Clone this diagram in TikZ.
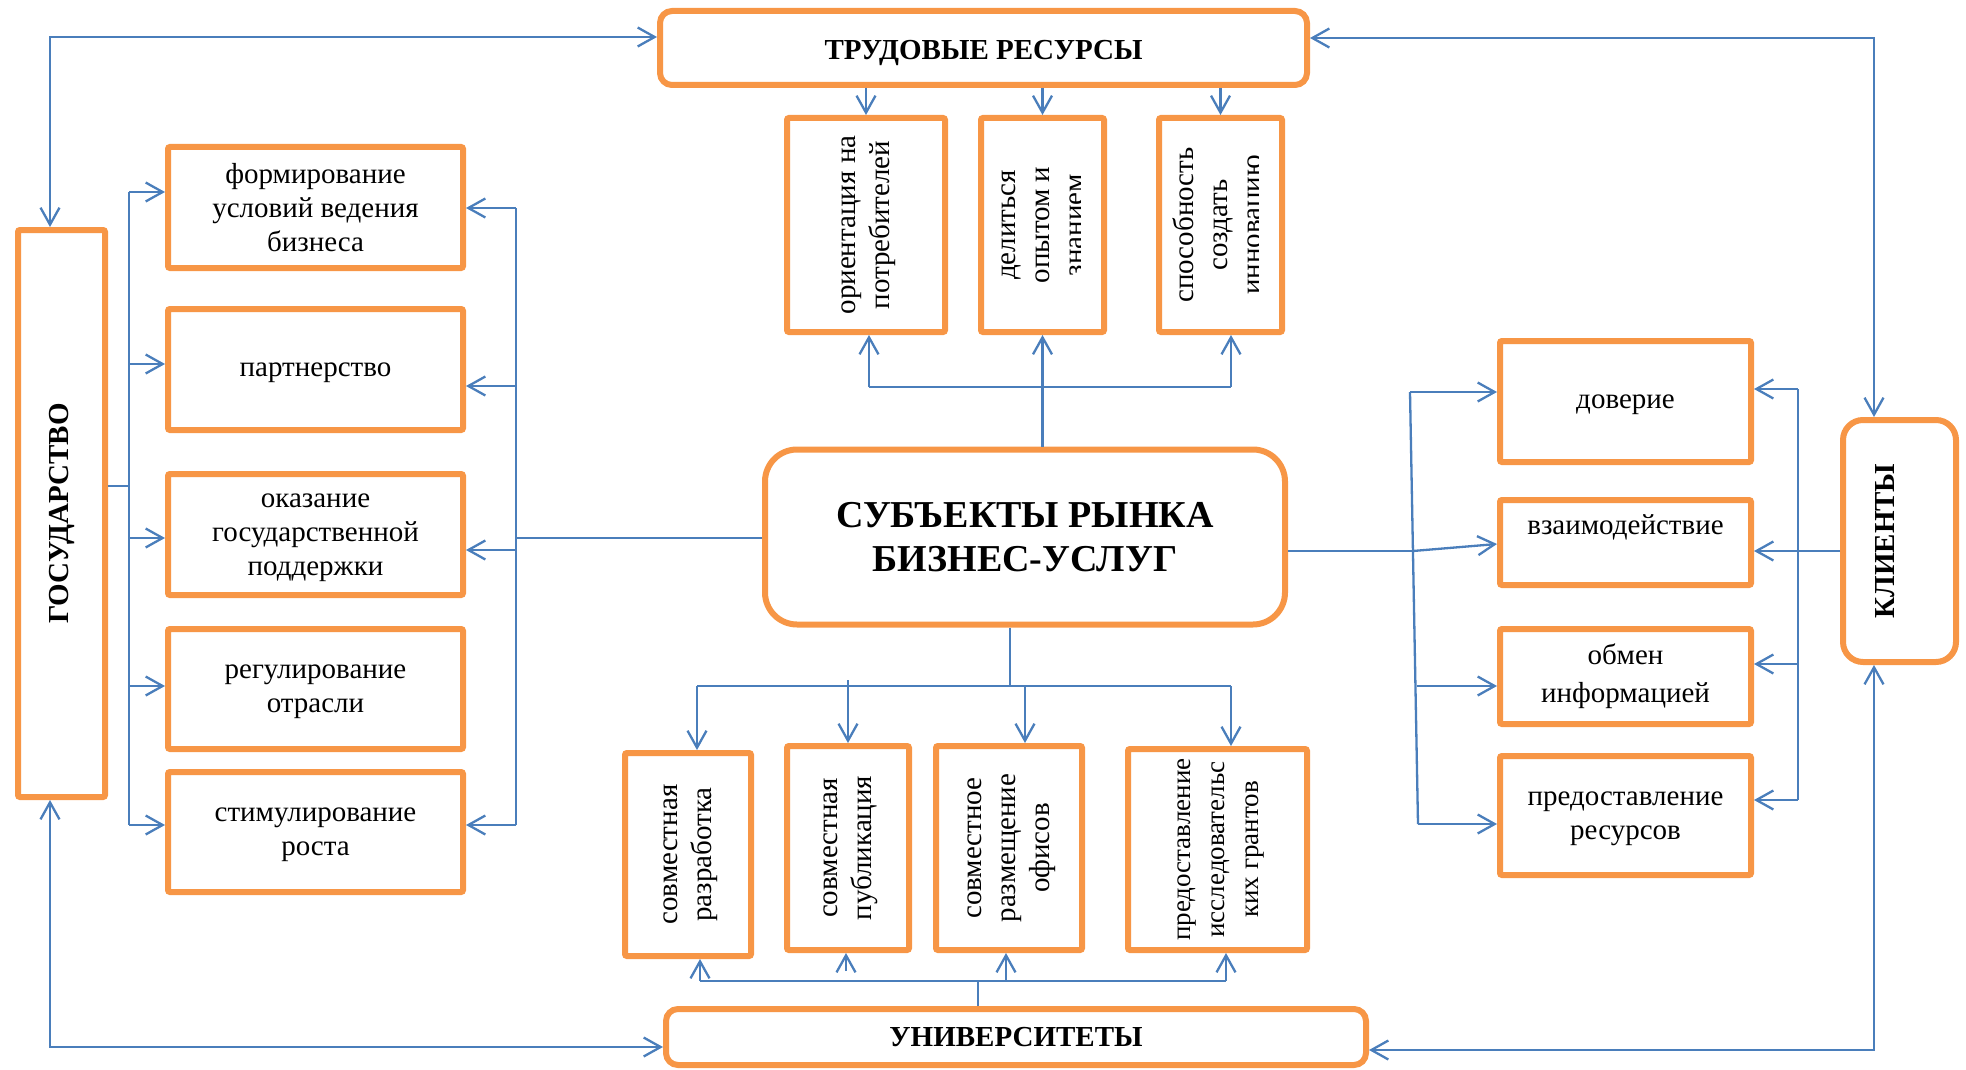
\documentclass[tikz,border=0pt]{standalone}
\usepackage{fontspec}
\setmainfont{Liberation Serif}
\usepackage{graphicx}
\usetikzlibrary{arrows.meta}

\definecolor{boxorange}{HTML}{F79646}
\definecolor{linkblue}{HTML}{4A7EBB}

% text set in lines, turned to read upwards
\newcommand{\vlines}[1]{\rotatebox{90}{\begin{tabular}{@{}c@{}}#1\end{tabular}}}

\tikzset{
  obox/.style={draw=boxorange, line width=3pt, fill=white, inner sep=0pt,
               rounded corners=1pt, align=center,
               font=\fontsize{14.5}{17}\selectfont},
  sz/.style 2 args={minimum width=#1pt, minimum height=#2pt},
  flat/.style={text depth=0pt},
  txt/.style={inner sep=0pt, align=center, font=\fontsize{14.5}{17}\selectfont},
  head/.style={font=\bfseries\fontsize{14.5}{17}\selectfont},
  conn/.style={draw=linkblue, line width=1.15pt},
  arr/.style={conn, -{Straight Barb[length=8.5pt,width=9.5pt]}},
  biarr/.style={conn, {Straight Barb[length=8.5pt,width=9.5pt]}-{Straight Barb[length=8.5pt,width=9.5pt]}},
}

\begin{document}
\begin{tikzpicture}[x=0.5pt, y=-0.5pt]
\useasboundingbox (0,0) rectangle (1966,1070);

% ---------- main blocks ----------
\node[obox, rounded corners=6pt, sz={323.5}{37}] (T) at (983.5,48) {};
\node[txt, head, flat] (Tt) at (983.5,50) {ТРУДОВЫЕ РЕСУРСЫ};
\node[obox, sz={43.5}{283.5}, head] (G) at (61.5,513.5) {\rotatebox{90}{ГОСУДАРСТВО}};
\node[obox, rounded corners=6pt, sz={350}{28}, head] (U) at (1016,1037) {УНИВЕРСИТЕТЫ};
\node[obox, rounded corners=10pt, sz={56.5}{121}] (K) at (1899.5,541) {};
\node[txt, head, rotate=90] (Kt) at (1885,541) {КЛИЕНТЫ};
\node[obox, rounded corners=16pt, sz={260}{87.5},
      font=\bfseries\fontsize{19}{22}\selectfont] (C) at (1025,537)
      {СУБЪЕКТЫ РЫНКА\\БИЗНЕС-УСЛУГ};

% ---------- state functions ----------
\node[obox, flat, sz={147.5}{60.5}] (L1) at (315.5,207.5) {формирование\\условий ведения\\бизнеса};
\node[obox, flat, sz={147.5}{60.5}] (L2) at (315.5,369.5) {партнерство};
\node[obox, flat, sz={147.5}{60.5}] (L3) at (315.5,534.5) {оказание\\государственной\\поддержки};
\node[obox, flat, sz={147.5}{60}]   (L4) at (315.5,689)   {регулирование\\отрасли};
\node[obox, flat, sz={147.5}{60}]   (L5) at (315.5,832)   {стимулирование\\роста};

% ---------- labour resources ----------
\node[obox, sz={79}{107}] (A1) at (866,225) {\vlines{ориентация на\\потребителей}};
\node[obox, sz={61.5}{107}] (A2) at (1042.5,225) {};
\begin{scope}
  \clip (984,121) rectangle (1080.5,329);
  \node[txt] (A2t) at (A2.center) {\vlines{делиться\\опытом и\\знанием}};
\end{scope}
\node[obox, sz={61.5}{107}] (A3) at (1220.5,225) {};
\begin{scope}
  \clip (1162,121) rectangle (1258.5,329);
  \node[txt] (A3t) at (A3.center) {\vlines{способность\\создать\\инновацию}};
\end{scope}

% ---------- universities ----------
\node[obox, sz={63}{101.5}]   (B1) at (688,854.5)    {\vlines{совместная\\разработка}};
\node[obox, sz={61}{102}]     (B2) at (848,848)      {\vlines{совместная\\публикация}};
\node[obox, sz={73}{102}]     (B3) at (1009,848)     {\vlines{совместное\\размещение\\офисов}};
\node[obox, sz={89.5}{100.5}, font=\fontsize{13.5}{17}\selectfont] (B4) at (1217.5,849.5)
      {\vlines{предоставление\\исследовательс\\ких грантов}};

% ---------- clients ----------
\node[obox, flat, sz={125.5}{60.5}] (R1) at (1625.5,401.5) {доверие};
\node[obox, sz={125.5}{42.5}] (R2) at (1625.5,542.5) {};
\node[txt] (R2t) at (1625.5,527) {взаимодействие};
\node[obox, sz={125.5}{47.5}, font=\fontsize{14.5}{19}\selectfont] (R3) at (1625.5,676.5) {обмен\\информацией};
\node[obox, flat, sz={125.5}{59.5}] (R4) at (1625.5,815.5) {предоставление\\ресурсов};

% ---------- outer loop ----------
\coordinate (cTL) at (50,37);
\coordinate (cTR) at (1874,38);
\coordinate (cBL) at (50,1047);
\coordinate (cBR) at (1874,1050);
\draw[biarr] (G.north -| cTL) -- (cTL) -- (T.west |- cTL);
\draw[biarr] (T.east |- cTR) -- (cTR) -- (K.north -| cTR);
\draw[biarr] (G.south -| cBL) -- (cBL) -- (U.west |- cBL);
\draw[biarr] (K.south -| cBR) -- (cBR) -- (U.east |- cBR);

% ---------- state branch ----------
\coordinate (gL) at (129,486);
\coordinate (tl1) at (129,192);
\coordinate (tl2) at (129,364);
\coordinate (tl3) at (129,538);
\coordinate (tl4) at (129,686);
\coordinate (tl5) at (129,825);
\draw[conn] (G.east |- gL) -- (gL);
\draw[conn] (tl1) -- (tl5);
\foreach \i in {1,...,5} \draw[arr] (tl\i) -- (L\i.west |- tl\i);

\coordinate (trC) at (516,538);
\coordinate (tr1) at (516,208);
\coordinate (tr2) at (516,386);
\coordinate (tr3) at (516,550);
\coordinate (tr5) at (516,825);
\draw[conn] (tr1) -- (tr5);
\draw[conn] (C.west |- trC) -- (trC);
\foreach \i in {1,2,3,5} \draw[arr] (tr\i) -- (L\i.east |- tr\i);

% ---------- labour branch ----------
\draw[arr] (T.south -| A1.north) -- (A1.north);
\draw[arr] (T.south -| A2.north) -- (A2.north);
\draw[arr] (T.south -| A3.north) -- (A3.north);
\coordinate (ha1) at (869,387);
\coordinate (ha3) at (1231,387);
\draw[conn] (ha1) -- (ha3);
\draw[arr] (ha1) -- (A1.south -| ha1);
\draw[arr] (ha3) -- (A3.south -| ha3);
\draw[arr] (C.north -| A2.south) -- (A2.south);

% ---------- university branch ----------
\coordinate (cb) at (1010,686);
\coordinate (hb1) at (697,686);
\coordinate (hb2) at (848,680);
\coordinate (hb3) at (1025,686);
\coordinate (hb4) at (1231,686);
\draw[conn] (C.south -| cb) -- (cb);
\draw[conn] (hb1) -- (hb4);
\foreach \i in {1,...,4} \draw[arr] (hb\i) -- (B\i.north -| hb\i);

\coordinate (uc) at (978,981);
\coordinate (ub1) at (700,981);
\coordinate (ub2) at (846,971);
\coordinate (ub3) at (1006,981);
\coordinate (ub4) at (1226,981);
\draw[conn] (U.north -| uc) -- (uc);
\draw[conn] (ub1) -- (ub4);
\foreach \i in {1,...,4} \draw[arr] (ub\i) -- (B\i.south -| ub\i);

% ---------- client branch ----------
\coordinate (rlC) at (1413,551);
\coordinate (rl1) at (1410,392);
\coordinate (rl3) at (1417,686);
\coordinate (rl4) at (1418,824);
\coordinate (r2in) at (1497,544);
\draw[conn] (rl1) -- (rl4);
\draw[conn] (C.east |- rlC) -- (rlC);
\draw[arr] (rl1) -- (R1.west |- rl1);
\draw[arr] (rlC) -- (R2.west |- r2in);
\draw[arr] (rl3) -- (R3.west |- rl3);
\draw[arr] (rl4) -- (R4.west |- rl4);

\coordinate (rr1) at (1798,389);
\coordinate (rr3) at (1798,664);
\coordinate (rr4) at (1798,800);
\draw[conn] (rr1) -- (rr4);
\draw[arr] (rr1) -- (R1.east |- rr1);
\draw[arr] (rr3) -- (R3.east |- rr3);
\draw[arr] (rr4) -- (R4.east |- rr4);
\draw[arr] (K.west |- rlC) -- (R2.east |- rlC);
\end{tikzpicture}
\end{document}
